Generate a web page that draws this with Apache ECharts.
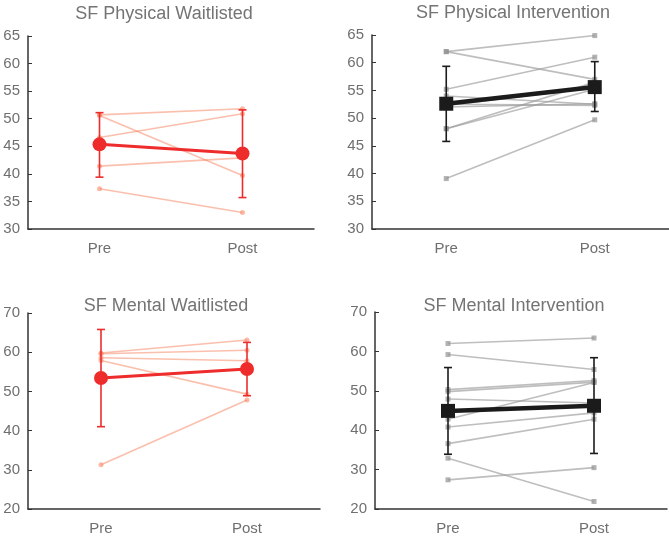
<!DOCTYPE html>
<html>
<head>
<meta charset="utf-8">
<script src="https://cdn.jsdelivr.net/npm/echarts@6/dist/echarts.min.js"></script>
<style>
html,body{margin:0;padding:0;background:#fff;}
#chart{width:669px;height:538px;}
</style>
</head>
<body>
<div id="chart"></div>
<script>
// ---- Data ----
const categories = ['Pre', 'Post'];

// SF Physical Waitlisted
const physWaitPre = [50.7, 50.6, 46.6, 41.4, 37.3];
const physWaitPost = [51.8, 39.7, 50.9, 42.9, 33.0];
const physWaitMean = [45.35, 43.7];
const physWaitLow = [39.4, 35.7];
const physWaitHigh = [51.1, 51.6];

// SF Physical Intervention
const physIntPre = [62.0, 62.0, 55.2, 48.1, 48.1, 39.1, 54.0, 52.5, 52.0, 52.3];
const physIntPost = [64.9, 57.0, 61.0, 56.5, 55.2, 49.7, 52.5, 52.3, 52.6, 55.5];
const physIntMean = [52.6, 55.6];
const physIntLow = [45.8, 51.2];
const physIntHigh = [59.35, 60.2];

// SF Mental Waitlisted
const mentWaitPre = [59.8, 59.6, 58.6, 57.9, 31.3];
const mentWaitPost = [63.1, 60.5, 57.8, 49.3, 47.8];
const mentWaitMean = [53.4, 55.7];
const mentWaitLow = [41.0, 48.9];
const mentWaitHigh = [65.8, 62.5];

// SF Mental Intervention
const mentIntPre = [62.0, 59.2, 50.3, 49.8, 47.9, 42.8, 40.8, 36.6, 32.9, 27.4];
const mentIntPost = [63.4, 55.4, 52.6, 52.2, 46.9, 52.1, 44.4, 42.8, 21.9, 30.5];
const mentIntMean = [44.9, 46.2];
const mentIntLow = [33.9, 34.1];
const mentIntHigh = [55.9, 58.4];

const titles = ['SF Physical Waitlisted', 'SF Physical Intervention', 'SF Mental Waitlisted', 'SF Mental Intervention'];
const yMins = [30, 30, 20, 20];
const yMaxs = [65, 65, 70, 70];
const yIntervals = [5, 5, 10, 10];

// ---- Layout ----
const grids = [
  {left: 28, top: 36, width: 286, height: 193},
  {left: 372, top: 35, width: 298, height: 194},
  {left: 28, top: 313, width: 292, height: 196},
  {left: 375, top: 312, width: 292, height: 197}
];
const titlePos = [[159, 0], [508, -1], [161, 292], [509, 292]];

const panels = [
  {pre: physWaitPre, post: physWaitPost, mean: physWaitMean, low: physWaitLow, high: physWaitHigh, red: true},
  {pre: physIntPre, post: physIntPost, mean: physIntMean, low: physIntLow, high: physIntHigh, red: false},
  {pre: mentWaitPre, post: mentWaitPost, mean: mentWaitMean, low: mentWaitLow, high: mentWaitHigh, red: true},
  {pre: mentIntPre, post: mentIntPost, mean: mentIntMean, low: mentIntLow, high: mentIntHigh, red: false}
];

const textGray = '#6f6f6f';
const font = 'Liberation Sans, Arial, Helvetica, sans-serif';

const option = {
  animation: false,
  backgroundColor: '#fff',
  title: titles.map((t, i) => ({
    text: t, left: titlePos[i][0], top: titlePos[i][1], textAlign: 'center',
    textStyle: {fontFamily: font, fontSize: 18, fontWeight: 'normal', color: '#747474'}
  })),
  grid: grids,
  xAxis: grids.map((g, i) => ({
    type: 'category', gridIndex: i, data: categories, boundaryGap: true,
    axisLine: {lineStyle: {color: '#333', width: 1.5}},
    axisTick: {show: false},
    axisLabel: {fontFamily: font, fontSize: 15, color: textGray, margin: 12},
    splitLine: {show: false}
  })),
  yAxis: grids.map((g, i) => ({
    type: 'value', gridIndex: i, min: yMins[i], max: yMaxs[i], interval: yIntervals[i],
    axisLine: {show: true, lineStyle: {color: '#333', width: 1.5}},
    axisTick: {show: true, inside: true, length: 4, lineStyle: {color: '#333', width: 1}},
    axisLabel: {fontFamily: font, fontSize: 15, color: textGray, margin: 8},
    splitLine: {show: false}
  })),
  series: []
};

panels.forEach((p, i) => {
  const indivLine = p.red ? 'rgba(247,128,92,0.5)' : 'rgba(155,155,155,0.65)';
  const indivMark = p.red ? 'rgba(247,128,92,0.55)' : 'rgba(145,145,145,0.7)';
  const meanColor = p.red ? '#ee2c2c' : '#1b1b1b';
  p.pre.forEach((v, k) => {
    option.series.push({
      type: 'line', xAxisIndex: i, yAxisIndex: i,
      data: [v, p.post[k]],
      symbol: p.red ? 'circle' : 'rect', symbolSize: 5,
      lineStyle: {color: indivLine, width: 1.6},
      itemStyle: {color: indivMark},
      z: 2, silent: true
    });
  });
  option.series.push({
    type: 'custom', xAxisIndex: i, yAxisIndex: i, z: 4,
    data: categories.map((c, k) => [k, p.low[k], p.high[k]]),
    renderItem: function (params, api) {
      const x = api.value(0);
      const lo = api.coord([x, api.value(1)]);
      const hi = api.coord([x, api.value(2)]);
      const hw = 4;
      const st = {stroke: meanColor, lineWidth: 1.6};
      return {
        type: 'group',
        children: [
          {type: 'line', shape: {x1: lo[0], y1: lo[1], x2: hi[0], y2: hi[1]}, style: st},
          {type: 'line', shape: {x1: lo[0] - hw, y1: lo[1], x2: lo[0] + hw, y2: lo[1]}, style: st},
          {type: 'line', shape: {x1: hi[0] - hw, y1: hi[1], x2: hi[0] + hw, y2: hi[1]}, style: st}
        ]
      };
    }
  });
  option.series.push({
    type: 'line', xAxisIndex: i, yAxisIndex: i, z: 5,
    data: p.mean,
    symbol: p.red ? 'circle' : 'rect', symbolSize: 14,
    lineStyle: {color: meanColor, width: p.red ? 3 : 4.5},
    itemStyle: {color: meanColor}
  });
});

const chart = echarts.init(document.getElementById('chart'), null, {renderer: 'canvas'});
chart.setOption(option);
</script>
</body>
</html>
